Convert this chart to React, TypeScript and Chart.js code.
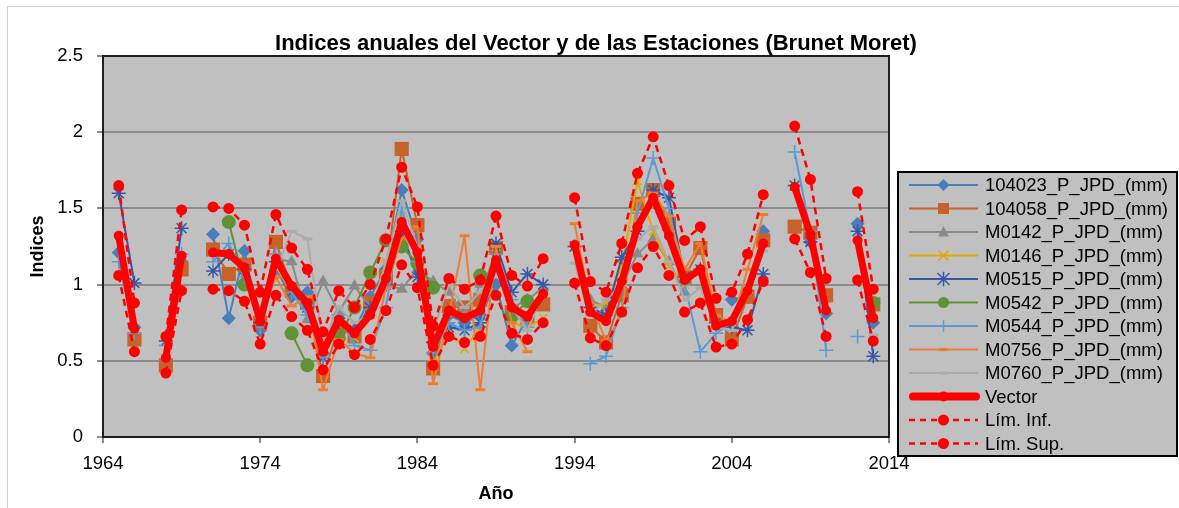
import React, { useEffect, useRef } from "react";
import { Chart, registerables } from "chart.js";
Chart.register(...registerables);

// Years 1965..2013 (index = year - 1965)
const YEARS = [
  1965, 1966, 1967, 1968, 1969, 1970, 1971, 1972, 1973, 1974,
  1975, 1976, 1977, 1978, 1979, 1980, 1981, 1982, 1983, 1984,
  1985, 1986, 1987, 1988, 1989, 1990, 1991, 1992, 1993, 1994,
  1995, 1996, 1997, 1998, 1999, 2000, 2001, 2002, 2003, 2004,
  2005, 2006, 2007, 2008, 2009, 2010, 2011, 2012, 2013,
];

const S104023 = [
  1.21, 0.72, null, null, 1.15, null, 1.33, 0.78, 1.22, 0.70,
  1.10, 0.92, 0.95, 0.55, 0.78, 0.70, 0.92, 1.10, 1.62, 1.30,
  0.55, 0.80, 0.75, 0.80, 1.00, 0.60, 0.78, null, null, null,
  null, null, null, null, null, null, null, null, null, 0.90,
  0.92, 1.35, null, null, 1.28, 0.81, null, 1.40, 0.75,
];
const S104058 = [
  null, 0.64, null, 0.47, 1.10, null, 1.23, 1.07, 1.13, 0.75,
  1.28, 0.97, 0.88, 0.40, 0.72, 0.66, 0.88, 1.05, 1.89, 1.39,
  0.45, 0.86, 0.85, 0.90, 1.24, 0.82, 0.78, 0.87, null, null,
  0.73, 0.62, 0.93, 1.53, 1.62, 1.40, 1.05, 1.24, 0.80, 0.64,
  0.92, 1.29, null, 1.38, 1.34, 0.93, null, null, 0.87,
];
const SM0142 = [
  null, null, null, null, null, null, null, null, null, null,
  1.17, 1.15, 0.77, 1.02, 0.82, 0.99, 0.85, 1.00, 0.97, 1.10,
  1.02, 0.95, 0.80, 1.00, 1.15, 0.85, 0.90, 0.98, null, null,
  0.90, 0.85, 1.00, 1.20, 1.30, 1.15, 0.95, null, null, null,
  null, null, null, null, null, null, null, null, null,
];
const SM0146 = [
  null, null, null, null, null, null, null, null, null, 0.80,
  1.12, 0.95, 0.85, 0.55, 0.75, 0.65, 0.80, 1.15, 1.45, 1.15,
  0.48, 0.70, 0.58, 0.72, 1.20, 0.75, 0.72, 0.78, null, null,
  0.85, 0.88, 1.12, 1.68, 1.35, 1.12, 1.00, null, null, null,
  null, null, null, null, null, null, null, null, null,
];
const SM0515 = [
  1.60, 1.01, null, 0.63, 1.37, null, 1.09, 1.20, 1.10, 0.75,
  1.15, 0.95, 0.85, 0.52, 0.75, 0.70, 0.85, 1.00, 1.35, 1.05,
  0.62, 0.72, 0.70, 0.75, 1.27, 0.95, 1.07, 1.00, null, 1.25,
  0.85, 0.80, 1.18, 1.35, 1.62, 1.57, 1.05, 1.10, 0.75, 0.72,
  0.70, 1.07, null, 1.65, 1.28, null, null, 1.35, 0.53,
];
const SM0542 = [
  null, null, null, null, null, null, null, 1.41, 1.00, null,
  null, 0.68, 0.47, null, 0.65, 0.85, 1.08, 1.29, 1.25, 1.14,
  0.98, null, null, 1.06, null, 0.79, 0.89, null, null, null,
  null, null, null, null, null, null, null, null, null, null,
  null, null, null, null, null, null, null, null, 0.88,
];
const SM0544 = [
  1.15, 0.68, null, 0.60, 1.20, null, 1.15, 1.27, 1.05, 0.72,
  1.20, 0.95, 0.80, 0.52, 0.80, 0.60, 0.57, 0.85, 1.50, 1.15,
  0.55, 0.75, 0.70, 0.72, 1.20, 0.90, 0.72, null, null, null,
  0.48, 0.53, 0.85, 1.47, 1.83, 1.50, 1.00, 0.56, 0.68, 0.75,
  null, null, null, 1.87, 1.35, 0.57, null, 0.66, null,
];
const SM0756 = [
  null, null, null, null, null, null, null, null, null, 0.78,
  1.05, 0.86, 0.92, 0.31, 0.64, 0.55, 0.52, 0.98, 1.30, 1.38,
  0.35, 0.80, 1.32, 0.31, 1.25, 0.75, 0.56, null, null, 1.40,
  0.88, 0.63, 0.80, 1.55, 1.60, 1.45, 1.10, 1.27, 0.80, 0.75,
  1.10, 1.46, null, null, null, null, null, null, null,
];
const SM0760 = [
  null, null, null, null, null, null, null, null, null, null,
  1.10, 1.35, 1.30, 0.62, 0.85, 0.75, 0.80, 1.15, 1.55, 1.25,
  0.70, 1.00, 0.85, 0.95, 1.10, 0.85, 0.70, 0.95, null, 1.14,
  0.80, 0.90, 1.00, 1.30, 1.38, 1.15, 0.90, 0.98, 0.72, 0.70,
  0.95, 1.22, null, null, null, null, null, null, 0.67,
];
const VECTOR = [
  1.32, 0.71, null, 0.52, 1.19, null, 1.21, 1.20, 1.11, 0.76,
  1.17, 0.99, 0.88, 0.56, 0.77, 0.68, 0.80, 1.04, 1.41, 1.21,
  0.59, 0.83, 0.78, 0.83, 1.16, 0.85, 0.79, 0.94, null, 1.26,
  0.82, 0.76, 1.02, 1.38, 1.57, 1.32, 1.03, 1.10, 0.73, 0.76,
  0.96, 1.27, null, 1.64, 1.33, 0.83, null, 1.29, 0.78,
];
const LIM_INF = [
  1.06, 0.56, null, 0.42, 0.96, null, 0.97, 0.96, 0.89, 0.61,
  0.93, 0.79, 0.70, 0.44, 0.61, 0.54, 0.64, 0.83, 1.13, 0.98,
  0.47, 0.66, 0.62, 0.66, 0.93, 0.68, 0.64, 0.75, null, 1.01,
  0.65, 0.60, 0.82, 1.11, 1.25, 1.06, 0.82, 0.88, 0.59, 0.61,
  0.77, 1.02, null, 1.30, 1.08, 0.66, null, 1.03, 0.63,
];
const LIM_SUP = [
  1.65, 0.88, null, 0.66, 1.49, null, 1.51, 1.50, 1.39, 0.95,
  1.46, 1.24, 1.10, 0.69, 0.96, 0.85, 1.00, 1.30, 1.77, 1.51,
  0.73, 1.04, 0.97, 1.03, 1.45, 1.06, 0.99, 1.17, null, 1.57,
  1.02, 0.95, 1.27, 1.73, 1.97, 1.65, 1.29, 1.38, 0.91, 0.95,
  1.20, 1.59, null, 2.04, 1.69, 1.04, null, 1.61, 0.97,
];

const X_MIN = 1964;
const X_MAX = 2014;
const X_STEP = 10;
const Y_MIN = 0;
const Y_MAX = 2.5;
const Y_STEP = 0.5;

const TITLE = "Indices anuales del Vector y de las Estaciones (Brunet Moret)";
const X_TITLE = "Año";
const Y_TITLE = "Indices";

const FONT = '"Liberation Sans", Arial, sans-serif';

type Mk = "diamond" | "square" | "triangle" | "x" | "star" | "circle" | "plus" | "dash";

interface Ser {
  label: string;
  data: (number | null)[];
  color: string;
  marker: Mk;
  size: number;
  lw: number;
  dash?: number[];
}

const SERIES: Ser[] = [
  { label: "104023_P_JPD_(mm)", data: S104023, color: "#4A7EBB", marker: "diamond", size: 7, lw: 2 },
  { label: "104058_P_JPD_(mm)", data: S104058, color: "#C5632A", marker: "square", size: 7, lw: 2 },
  { label: "M0142_P_JPD_(mm)", data: SM0142, color: "#8A8A8A", marker: "triangle", size: 7, lw: 2 },
  { label: "M0146_P_JPD_(mm)", data: SM0146, color: "#E0A800", marker: "x", size: 6, lw: 2 },
  { label: "M0515_P_JPD_(mm)", data: SM0515, color: "#3656A6", marker: "star", size: 7, lw: 2 },
  { label: "M0542_P_JPD_(mm)", data: SM0542, color: "#5E9234", marker: "circle", size: 7, lw: 2 },
  { label: "M0544_P_JPD_(mm)", data: SM0544, color: "#5B9BD5", marker: "plus", size: 7, lw: 2 },
  { label: "M0756_P_JPD_(mm)", data: SM0756, color: "#ED7D31", marker: "dash", size: 5, lw: 2 },
  { label: "M0760_P_JPD_(mm)", data: SM0760, color: "#ABABAB", marker: "dash", size: 5, lw: 2 },
  { label: "Vector", data: VECTOR, color: "#FF0000", marker: "circle", size: 5, lw: 7 },
  { label: "Lím. Inf.", data: LIM_INF, color: "#FF0000", marker: "circle", size: 5.5, lw: 2.5, dash: [7, 5] },
  { label: "Lím. Sup.", data: LIM_SUP, color: "#FF0000", marker: "circle", size: 5.5, lw: 2.5, dash: [7, 5] },
];

const PSTYLE: Record<Mk, string> = {
  diamond: "rectRot",
  square: "rect",
  triangle: "triangle",
  x: "crossRot",
  star: "star",
  circle: "circle",
  plus: "cross",
  dash: "line",
};

function drawMarker(ctx: CanvasRenderingContext2D, mk: Mk, x: number, y: number, r: number, color: string) {
  ctx.save();
  ctx.fillStyle = color;
  ctx.strokeStyle = color;
  ctx.lineWidth = 1.5;
  ctx.setLineDash([]);
  ctx.beginPath();
  switch (mk) {
    case "diamond":
      ctx.moveTo(x, y - r); ctx.lineTo(x + r, y); ctx.lineTo(x, y + r); ctx.lineTo(x - r, y); ctx.closePath(); ctx.fill();
      break;
    case "square":
      ctx.rect(x - r, y - r, 2 * r, 2 * r); ctx.fill();
      break;
    case "triangle":
      ctx.moveTo(x, y - r); ctx.lineTo(x + r * 0.9, y + r * 0.75); ctx.lineTo(x - r * 0.9, y + r * 0.75); ctx.closePath(); ctx.fill();
      break;
    case "circle":
      ctx.arc(x, y, r, 0, Math.PI * 2); ctx.fill();
      break;
    case "x":
      ctx.moveTo(x - r, y - r); ctx.lineTo(x + r, y + r); ctx.moveTo(x + r, y - r); ctx.lineTo(x - r, y + r); ctx.stroke();
      break;
    case "star":
      ctx.moveTo(x - r, y - r); ctx.lineTo(x + r, y + r); ctx.moveTo(x + r, y - r); ctx.lineTo(x - r, y + r);
      ctx.moveTo(x, y - r * 1.2); ctx.lineTo(x, y + r * 1.2); ctx.stroke();
      break;
    case "plus":
      ctx.moveTo(x - r, y); ctx.lineTo(x + r, y); ctx.moveTo(x, y - r); ctx.lineTo(x, y + r); ctx.stroke();
      break;
    case "dash":
      ctx.lineWidth = 3; ctx.moveTo(x - r, y); ctx.lineTo(x + r, y); ctx.stroke();
      break;
  }
  ctx.restore();
}

const decor = {
  id: "decor",
  beforeDraw(chart: any) {
    const { ctx, chartArea: a } = chart;
    ctx.save();
    ctx.fillStyle = "#FFFFFF";
    ctx.fillRect(0, 0, chart.width, chart.height);
    ctx.strokeStyle = "#D0D0D0";
    ctx.lineWidth = 1;
    ctx.strokeRect(7.5, 6.5, 1180, 520);
    ctx.fillStyle = "#C0C0C0";
    ctx.fillRect(a.left, a.top, a.right - a.left, a.bottom - a.top);
    ctx.restore();
  },
  beforeDatasetsDraw(chart: any) {
    const { ctx, chartArea: a } = chart;
    ctx.save();
    ctx.lineWidth = 2;
    ctx.strokeStyle = "#1E1E1E";
    ctx.strokeRect(a.left, a.top, a.right - a.left, a.bottom - a.top);
    ctx.restore();
  },
  afterDraw(chart: any) {
    const { ctx, chartArea: a } = chart;
    ctx.save();
    // Title
    ctx.fillStyle = "#000";
    ctx.textAlign = "center";
    ctx.textBaseline = "middle";
    ctx.font = `bold 22px ${FONT}`;
    ctx.fillText(TITLE, 596, 44);
    // Axis titles
    ctx.font = `bold 18px ${FONT}`;
    ctx.fillText(X_TITLE, (a.left + a.right) / 2, 494);
    ctx.save();
    ctx.translate(38, (a.top + a.bottom) / 2);
    ctx.rotate(-Math.PI / 2);
    ctx.fillText(Y_TITLE, 0, 0);
    ctx.restore();

    // Legend
    const lx = 898, ly = 172, lw = 279, lh = 284;
    ctx.fillStyle = "#C0C0C0";
    ctx.fillRect(lx, ly, lw, lh);
    ctx.lineWidth = 2;
    ctx.strokeStyle = "#000";
    ctx.strokeRect(lx, ly, lw, lh);
    const y0 = 185, step = 23.5;
    SERIES.forEach((s, i) => {
      const y = y0 + i * step;
      ctx.save();
      ctx.strokeStyle = s.color;
      ctx.lineWidth = s.lw === 7 ? 8 : s.lw;
      ctx.lineCap = s.lw === 7 ? "round" : "butt";
      ctx.setLineDash(s.dash ? [6, 5] : []);
      ctx.beginPath();
      ctx.moveTo(s.lw === 7 ? 913 : 909, y);
      ctx.lineTo(s.lw === 7 ? 976 : 978, y);
      ctx.stroke();
      ctx.restore();
      const r = s.marker === "square" ? 5.5 : s.marker === "circle" ? (s.lw === 7 ? 5 : 5.5) : s.size - 1;
      drawMarker(ctx, s.marker, 943.5, y, r, s.color);
      ctx.fillStyle = "#000";
      ctx.textAlign = "left";
      ctx.textBaseline = "middle";
      ctx.font = `18.5px ${FONT}`;
      ctx.fillText(s.label, 985, y + 1);
    });
    ctx.restore();
  },
};

export default function App() {
  const ref = useRef<HTMLCanvasElement>(null);
  useEffect(() => {
    const n = SERIES.length;
    const datasets = SERIES.map((s, i) => ({
      label: s.label,
      data: YEARS.map((x, k) => ({ x, y: s.data[k] })),
      borderColor: s.color,
      backgroundColor: s.color,
      borderWidth: s.lw,
      borderDash: s.dash || [],
      borderJoinStyle: "round" as const,
      borderCapStyle: s.lw === 7 ? ("round" as const) : ("butt" as const),
      pointStyle: PSTYLE[s.marker] as any,
      pointRadius: s.marker === "square" ? 10 : s.size,
      pointBackgroundColor: s.color,
      pointBorderColor: s.color,
      pointBorderWidth: s.marker === "dash" ? 3 : s.marker === "x" || s.marker === "star" || s.marker === "plus" ? 1.5 : 0,
      tension: 0,
      spanGaps: false,
      order: n - 1 - i,
    }));
    const chart = new Chart(ref.current as HTMLCanvasElement, {
      type: "line",
      data: { datasets } as any,
      options: {
        responsive: false,
        devicePixelRatio: 1,
        animation: false,
        events: [],
        layout: { padding: { top: 56, right: 290, bottom: 0, left: 0 } },
        plugins: {
          legend: { display: false },
          tooltip: { enabled: false },
          title: { display: false },
        },
        scales: {
          x: {
            type: "linear",
            min: X_MIN,
            max: X_MAX,
            border: { display: false },
            grid: { drawOnChartArea: false, drawTicks: true, tickLength: 6, color: "#8C8C8C", lineWidth: 2 },
            ticks: {
              stepSize: X_STEP,
              color: "#000",
              font: { family: FONT, size: 18.5 },
              padding: 10,
              maxRotation: 0,
              callback: (v: any) => String(v),
            },
            afterFit: (s: any) => { s.height = 71; },
          },
          y: {
            type: "linear",
            min: Y_MIN,
            max: Y_MAX,
            border: { display: false },
            grid: { color: "#8C8C8C", lineWidth: 2, tickLength: 6, drawTicks: true },
            ticks: {
              stepSize: Y_STEP,
              color: "#000",
              font: { family: FONT, size: 18.5 },
              padding: 14,
              callback: (v: any) => String(Math.round(Number(v) * 10) / 10),
            },
            afterFit: (s: any) => { s.width = 103; },
          },
        },
      },
      plugins: [decor],
    } as any);
    return () => chart.destroy();
  }, []);
  return (
    <div style={{ position: "absolute", left: 0, top: 0, width: 1179, height: 508 }}>
      <canvas ref={ref} width={1179} height={508} style={{ display: "block" }} />
    </div>
  );
}
